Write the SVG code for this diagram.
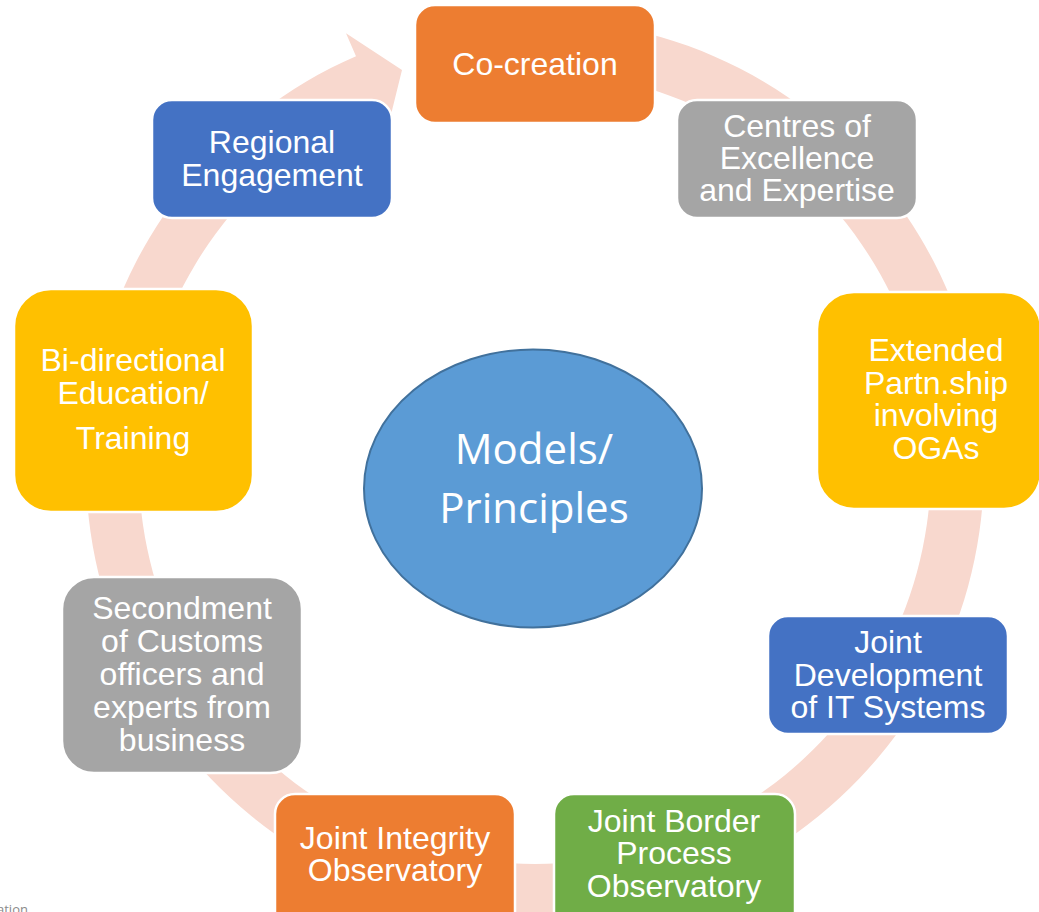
<svg xmlns="http://www.w3.org/2000/svg" width="1039" height="912" viewBox="0 0 1039 912">
<style>
.n{stroke:#ffffff;stroke-width:2.5}
.t{font-family:"Liberation Sans",Arial,sans-serif;font-size:32px;fill:#ffffff;text-anchor:middle}
.c{font-family:"Open Sans","Noto Sans",sans-serif;font-size:42px;fill:#ffffff;text-anchor:middle}
.or{fill:#ED7D31}.gr{fill:#A5A5A5}.ye{fill:#FFC000}.bl{fill:#4472C4}.gn{fill:#70AD47}
</style>
<rect width="1039" height="912" fill="#ffffff"/>
<g id="connectors">
<path d="M495.9,20.7 A449,449 0 1 1 356,56.2 L346,33.3 L402,70 L387.5,128.7 L377.1,104.8 A396,396 0 1 0 500.5,73.5 Z" fill="#F8D8CE"/>
</g>
<g id="node-cocreation">
<rect class="n or" x="415" y="5" width="240" height="118" rx="20"/>
<text class="t" x="535" y="75">Co-creation</text>
</g>
<g id="node-centres">
<rect class="n gr" x="677" y="100" width="240" height="118" rx="20"/>
<text class="t" x="797" y="137">Centres of</text>
<text class="t" x="797" y="169">Excellence</text>
<text class="t" x="797" y="201">and Expertise</text>
</g>
<g id="node-extended">
<rect class="n ye" x="817" y="292" width="224" height="217" rx="37"/>
<text class="t" x="936" y="361">Extended</text>
<text class="t" x="936" y="394">Partn.ship</text>
<text class="t" x="936" y="426">involving</text>
<text class="t" x="936" y="459">OGAs</text>
</g>
<g id="node-jointdev">
<rect class="n bl" x="768" y="616" width="240" height="118" rx="20"/>
<text class="t" x="888" y="653">Joint</text>
<text class="t" x="888" y="686">Development</text>
<text class="t" x="888" y="718">of IT Systems</text>
</g>
<g id="node-jointborder">
<rect class="n gn" x="554" y="794" width="241" height="140" rx="20"/>
<text class="t" x="674" y="832">Joint Border</text>
<text class="t" x="674" y="864">Process</text>
<text class="t" x="674" y="897">Observatory</text>
</g>
<g id="node-jointintegrity">
<rect class="n or" x="275" y="794" width="240" height="140" rx="20"/>
<text class="t" x="395" y="849">Joint Integrity</text>
<text class="t" x="395" y="881">Observatory</text>
</g>
<g id="node-secondment">
<rect class="n gr" x="62" y="577" width="240" height="196" rx="32"/>
<text class="t" x="182" y="619">Secondment</text>
<text class="t" x="182" y="652">of Customs</text>
<text class="t" x="182" y="685">officers and</text>
<text class="t" x="182" y="718">experts from</text>
<text class="t" x="182" y="751">business</text>
</g>
<g id="node-bidirectional">
<rect class="n ye" x="14" y="289" width="239" height="223" rx="37"/>
<text class="t" x="133" y="371">Bi-directional</text>
<text class="t" x="133" y="404">Education/</text>
<text class="t" x="133" y="449">Training</text>
</g>
<g id="node-regional">
<rect class="n bl" x="152" y="100" width="240" height="118" rx="20"/>
<text class="t" x="272" y="153">Regional</text>
<text class="t" x="272" y="186">Engagement</text>
</g>
<g id="node-center">
<ellipse cx="533" cy="488.5" rx="169" ry="139" fill="#5B9BD5" stroke="#41719C" stroke-width="2"/>
<text class="c" x="534" y="464">Models/</text>
<text class="c" x="534" y="523">Principles</text>
</g>
<text x="-3" y="914" font-family="'Open Sans','Noto Sans',sans-serif" font-size="13" fill="#8a8a8a">ation</text>
</svg>
